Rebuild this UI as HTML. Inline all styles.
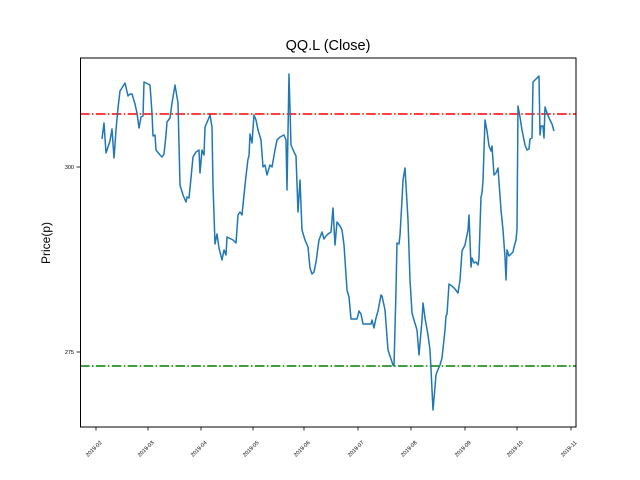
<!DOCTYPE html><html><head><meta charset="utf-8"><style>body{margin:0;background:#fff}svg{display:block}text{font-family:"Liberation Sans","DejaVu Sans",sans-serif}</style></head><body>
<svg width="640" height="480" viewBox="0 0 640 480" xmlns="http://www.w3.org/2000/svg">
<rect width="640" height="480" fill="#fff"/>
<text x="328" y="50" font-size="14.5" text-anchor="middle">QQ.L (Close)</text>
<text transform="translate(50,243) rotate(-90)" font-size="12" text-anchor="middle">Price(p)</text>
<line x1="80" y1="114" x2="576" y2="114" stroke="#ff0000" stroke-width="1.5" stroke-dasharray="9.6,2.4,1.5,2.4"/>
<line x1="80" y1="366" x2="576" y2="366" stroke="#008000" stroke-width="1.5" stroke-dasharray="9.6,2.4,1.5,2.4"/>
<polyline fill="none" stroke="#1f77b4" stroke-width="1.5" stroke-linejoin="round" points="102,139 104,123 106,153 110,141 112,129 114,158 116,130 118,108 120,91 125,83 128,96 130,94 132,94 135,104 137,113 139,128 141,117 143,116 144,82 148,84 150,85 152,113 153,136 155,135 156,150 160,155 162,157 164,154 166,135 167,122 170,118 172,103 175,85 178,103 180,185 183,195 186,202 187,197 189,198 191,178 193,157 196,152 199,150 200,173 202,150 204,155 205,127 208,120 210,115 212,127 213,185 215,244 217,234 219,248 222,260 224,250 226,255 227,237 233,240 236,243 238,215 240,212 242,215 244,195 246,176 248,159 249,156 250,134 252,143 254,115 256,120 258,130 261,140 263,167 265,165 267,175 270,165 272,167 275,150 277,140 280,137 284,135 286,140 287,190 289,74 291,145 294,152 296,156 298,212 300,180 302,230 305,240 308,247 310,268 312,274 314,272 316,262 319,240 322,232 324,239 326,236 328,234 331,232 333,208 335,245 337,222 340,226 342,230 344,245 347,290 349,297 351,319 354,319 357,319 359,311 361,314 363,324 367,324 371,324 372,320 374,328 376,318 378,311 381,295 382,296 385,310 388,350 393,365 394,366 396,290 397,243 399,244 400,235 402,200 403,180 405,168 408,220 410,280 412,313 414,320 417,330 419,355 422,320 423,303 425,318 428,335 430,350 431,369 433,410 436,375 437,372 440,365 442,358 445,330 446,316 447,314 449,284 453,287 455,289 458,293 460,280 462,251 465,245 466,240 468,230 469,215 471,267 472,258 474,263 476,262 478,265 479,258 481,197 482,193 483,181 485,120 487,131 489,146 491,151 492,146 494,175 496,173 498,168 501,210 503,230 505,257 506,280 507,250 509,256 511,254 513,252 514,247 516,240 517,229 518,106 520,117 522,130 525,145 527,150 529,149 530,139 532,138 533,82 537,78 539,76 540,135 541,126 543,126 544,138 545,107 547,113 550,120 552,124 554,131"/>
<rect x="80.5" y="58" width="495.5" height="369" fill="none" stroke="#000" stroke-width="1"/>
<g stroke="#000" stroke-width="0.8">
<line x1="80" y1="167" x2="76.5" y2="167"/><line x1="80" y1="352" x2="76.5" y2="352"/>
<line x1="96" y1="427" x2="96" y2="430.5"/><line x1="148" y1="427" x2="148" y2="430.5"/><line x1="201" y1="427" x2="201" y2="430.5"/><line x1="253" y1="427" x2="253" y2="430.5"/><line x1="304" y1="427" x2="304" y2="430.5"/><line x1="358" y1="427" x2="358" y2="430.5"/><line x1="411" y1="427" x2="411" y2="430.5"/><line x1="465" y1="427" x2="465" y2="430.5"/><line x1="517" y1="427" x2="517" y2="430.5"/><line x1="571" y1="427" x2="571" y2="430.5"/>
</g>
<g font-size="5.5" fill="#000">
<text x="74" y="169" text-anchor="end">300</text><text x="74" y="354" text-anchor="end">275</text>
</g>
<g font-size="5.5" fill="#000" text-anchor="middle">
<text transform="translate(95,450) rotate(-45)">2019-02</text>
<text transform="translate(147,450) rotate(-45)">2019-03</text>
<text transform="translate(200,450) rotate(-45)">2019-04</text>
<text transform="translate(252,450) rotate(-45)">2019-05</text>
<text transform="translate(303,450) rotate(-45)">2019-06</text>
<text transform="translate(357,450) rotate(-45)">2019-07</text>
<text transform="translate(410,450) rotate(-45)">2019-08</text>
<text transform="translate(464,450) rotate(-45)">2019-09</text>
<text transform="translate(516,450) rotate(-45)">2019-10</text>
<text transform="translate(570,450) rotate(-45)">2019-11</text>
</g>
</svg></body></html>
